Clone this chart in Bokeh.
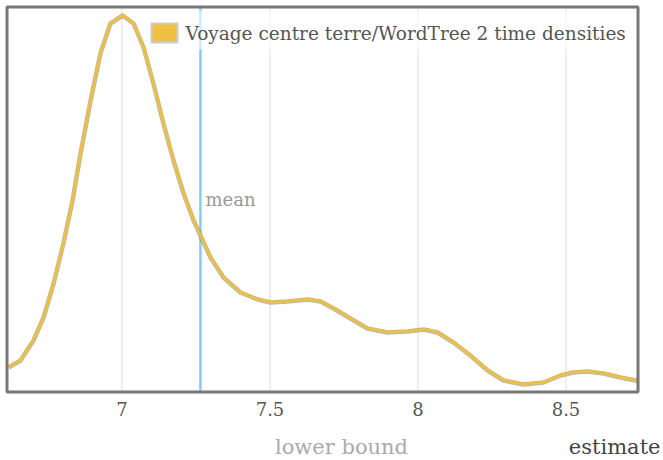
from bokeh.plotting import figure
from bokeh.models import Span, ColumnDataSource, Range1d
from bokeh.core.properties import value
from bokeh.embed import file_html
from bokeh.resources import INLINE

# ---- data ----
xs = [6.617, 6.657, 6.701, 6.735, 6.769, 6.802, 6.833, 6.860, 6.894, 6.927,
      6.961, 7.002, 7.039, 7.073, 7.106, 7.140, 7.174, 7.208, 7.242, 7.265,
      7.299, 7.343, 7.400, 7.458, 7.502, 7.559, 7.627, 7.671, 7.715, 7.772,
      7.829, 7.897, 7.965, 8.019, 8.066, 8.120, 8.177, 8.235, 8.289, 8.356,
      8.424, 8.481, 8.525, 8.573, 8.627, 8.684, 8.735, 8.743]
density = [0.245, 0.315, 0.515, 0.745, 1.085, 1.485, 1.915, 2.385, 2.915, 3.385,
           3.685, 3.765, 3.685, 3.445, 3.085, 2.685, 2.315, 1.985, 1.715, 1.565,
           1.345, 1.145, 0.995, 0.925, 0.895, 0.905, 0.925, 0.905, 0.835, 0.735,
           0.635, 0.595, 0.605, 0.625, 0.595, 0.495, 0.365, 0.215, 0.115, 0.075,
           0.095, 0.165, 0.195, 0.205, 0.185, 0.145, 0.115, 0.11]
mean_value = 7.265
tick_values = [7, 7.5, 8, 8.5]
tick_labels = ["7", "7.5", "8", "8.5"]
series_name = "Voyage centre terre/WordTree 2 time densities"
x_label = "lower bound"
y_note = "estimate"
mean_label = "mean"

FONT = value("DejaVu Serif")
W, H = 663, 460

# pixel <-> data helpers for decoration placement (x: 7 at px 121.5, 296 px/unit; y: 0 at px 391.5, 100 px/unit)
def dx(px):
    return 7 + (px - 121.5) / 296.0

def dy(py):
    return (391.5 - py) / 100.0

p = figure(width=W, height=H, output_backend="svg", toolbar_location=None,
           x_range=Range1d(dx(0), dx(W)), y_range=Range1d(dy(H), dy(0)),
           min_border=0, min_border_left=0, min_border_right=0,
           min_border_top=0, min_border_bottom=0)
p.xaxis.visible = False
p.yaxis.visible = False
p.xgrid.visible = False
p.ygrid.visible = False
p.outline_line_color = None
p.background_fill_color = "white"
p.border_fill_color = "white"

x_lo, x_hi, y_top = dx(6.5), dx(637.5), dy(6.5)

# vertical grid lines at ticks
p.segment(x0=tick_values, y0=[0] * len(tick_values), x1=tick_values, y1=[y_top] * len(tick_values),
          line_color="#dddddd", line_width=1)

# mean line
p.add_layout(Span(location=mean_value, dimension="height", line_color="#86cdea",
                  line_width=2.5, level="underlay"))
# keep mean line inside the frame: mask below/above via white quads
p.quad(left=[dx(0)], right=[dx(W)], bottom=[dy(H)], top=[0], fill_color="white", line_color=None)
p.quad(left=[dx(0)], right=[dx(W)], bottom=[y_top], top=[dy(0)], fill_color="white", line_color=None)

# legend background (semi-transparent over grid / mean line)
p.quad(left=[dx(145)], right=[dx(630)], bottom=[dy(49)], top=[dy(10)],
       fill_color="white", fill_alpha=0.6, line_color=None)

# density curve with soft dark edge
src = ColumnDataSource(dict(x=xs, y=density))
p.line("x", "y", source=src, line_color="#6f6f6f", line_alpha=0.5, line_width=4.5,
       line_join="round")
p.line("x", "y", source=src, line_color="#ecc043", line_width=3, line_join="round")

# frame border
p.quad(left=[x_lo], right=[x_hi], bottom=[0], top=[y_top], fill_color=None,
       line_color="#777777", line_width=3)

# legend
p.quad(left=[dx(151)], right=[dx(177)], bottom=[dy(42)], top=[dy(23)],
       fill_color="#f0c040", line_color="#cccccc", line_width=2)
p.text(x=[dx(185)], y=[dy(33)], text=[series_name], text_font=FONT,
       text_font_size="18.5px", text_color="#555555", text_baseline="middle")

# mean label
p.text(x=[mean_value], y=[dy(199)], text=[mean_label], x_offset=5, text_font=FONT,
       text_font_size="18px", text_color="#999999", text_baseline="middle")

# tick labels
p.text(x=tick_values, y=[dy(408)] * len(tick_values), text=tick_labels, text_font=FONT,
       text_font_size="18px", text_color="#555555", text_align="center",
       text_baseline="middle")

# axis texts
p.text(x=[dx(341)], y=[dy(446)], text=[x_label], text_font=FONT, text_font_size="21px",
       text_color="#aaaaaa", text_align="center", text_baseline="middle")
p.text(x=[dx(660)], y=[dy(446)], text=[y_note], text_font=FONT, text_font_size="21px",
       text_color="#444444", text_align="right", text_baseline="middle")

open("out.html", "w").write(file_html(p, INLINE))
